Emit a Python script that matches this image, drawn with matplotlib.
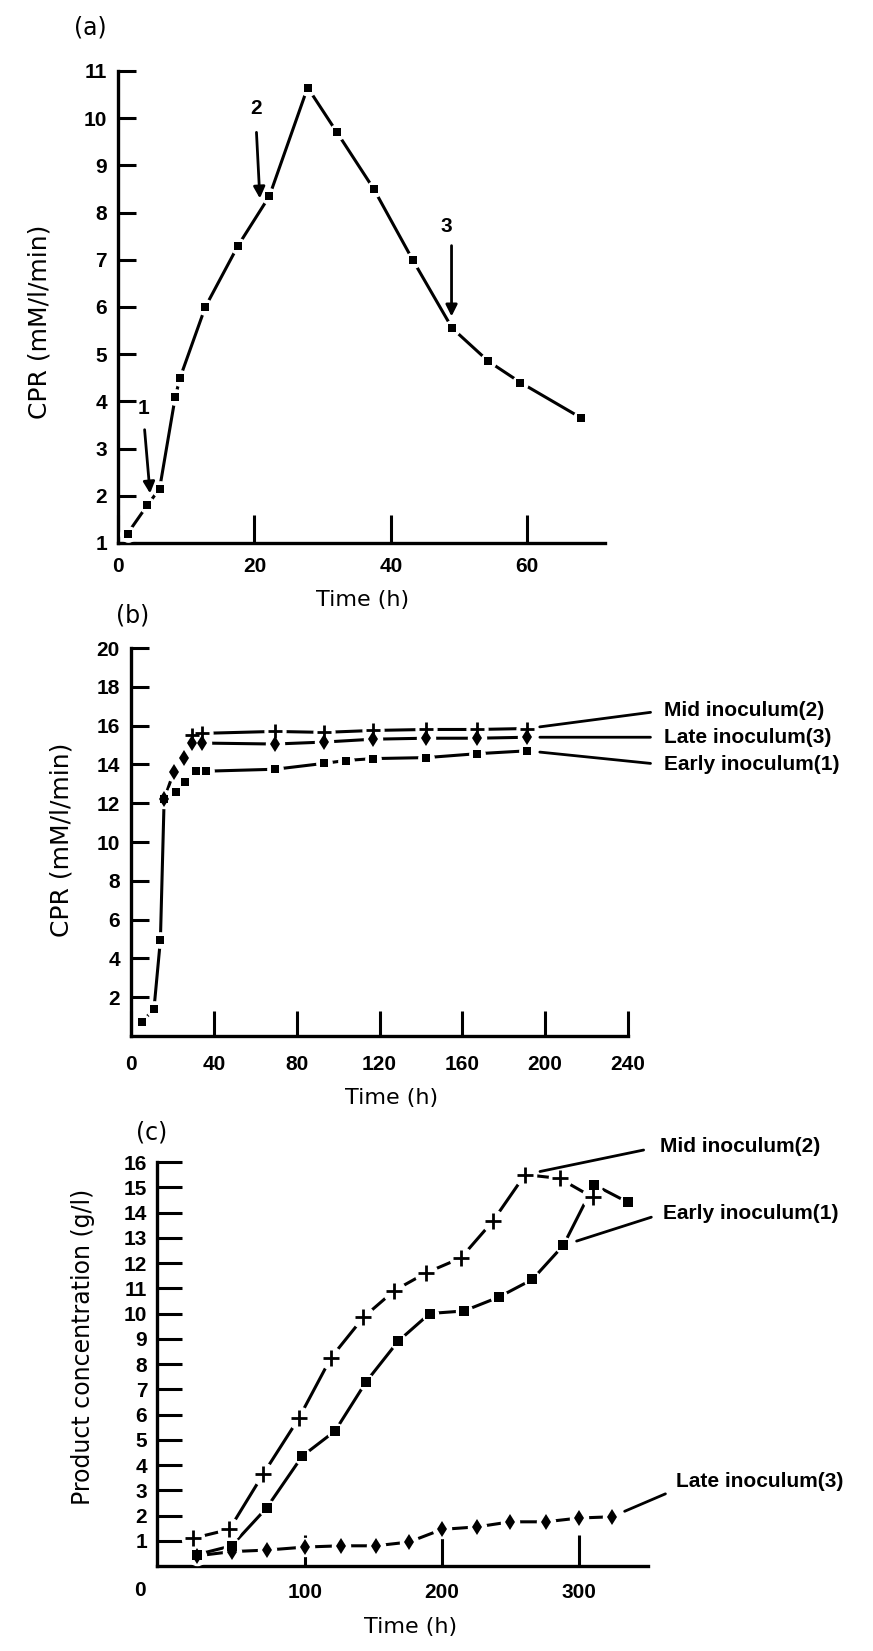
import matplotlib
matplotlib.use("Agg")
import matplotlib.pyplot as plt

# (a) CPR during the seed culture
a_time = [1.4, 4.3, 6.1, 8.4, 9.1, 12.8, 17.6, 22.2, 27.8, 32.1, 37.5, 43.2, 49.0, 54.3, 59.0, 67.9]
a_cpr = [1.2, 1.8, 2.15, 4.1, 4.5, 6.0, 7.3, 8.35, 10.65, 9.7, 8.5, 7.0, 5.55, 4.85, 4.4, 3.65]
# arrow label, label pos, arrow tail, arrow tip (data units)
a_arrows = [
    ("1", (3.7, 3.85), (3.9, 3.4), (4.7, 2.05)),
    ("2", (20.2, 10.2), (20.3, 9.7), (20.8, 8.3)),
    ("3", (48.1, 7.7), (48.9, 7.3), (48.9, 5.8)),
]

# (b) CPR in the production fermenter
b_early_t = [5.2, 11.1, 14.2, 16.0, 21.9, 26.0, 31.2, 36.1, 69.5, 93.0, 103.7, 117.0, 142.6, 166.9, 191.4]
b_early = [0.7, 1.4, 4.95, 12.2, 12.6, 13.1, 13.65, 13.65, 13.75, 14.05, 14.2, 14.3, 14.35, 14.55, 14.7]
b_mid_t = [29.5, 34.5, 69.5, 93.0, 117.0, 142.6, 166.9, 191.4]
b_mid = [15.5, 15.6, 15.7, 15.65, 15.75, 15.8, 15.8, 15.85]
b_late_t = [16.0, 20.6, 25.8, 29.5, 34.5, 69.5, 93.0, 117.0, 142.6, 166.9, 191.4]
b_late = [12.2, 13.6, 14.35, 15.1, 15.1, 15.05, 15.15, 15.3, 15.35, 15.35, 15.4]

# (c) product concentration
c_mid_t = [18.5, 44.8, 69.6, 95.5, 119, 142.7, 165, 188, 213.8, 237, 260.6, 285.8, 310]
c_mid = [1.1, 1.45, 3.65, 5.85, 8.25, 9.85, 10.9, 11.6, 12.2, 13.65, 15.5, 15.35, 14.6]
c_early_t = [21, 46.5, 72, 98, 122, 144.7, 168, 191, 216, 241.5, 266, 288.6, 311, 335.8]
c_early = [0.45, 0.8, 2.3, 4.35, 5.35, 7.3, 8.9, 10.0, 10.1, 10.65, 11.35, 12.7, 15.1, 14.4]
c_late_t = [21, 46.5, 72, 100, 126, 151.6, 176, 200, 225.6, 250, 275.6, 300, 324]
c_late = [0.4, 0.57, 0.63, 0.75, 0.8, 0.8, 0.95, 1.45, 1.55, 1.75, 1.75, 1.9, 1.95]

W, H = 873, 1651
fig = plt.figure(figsize=(W / 100, H / 100), dpi=100)
TICKFONT = ["Liberation Sans", "DejaVu Sans"]


def box(left, top, right, bottom):
    return [left / W, 1 - bottom / H, (right - left) / W, (bottom - top) / H]


def ftext(x, y, s, **kw):
    fig.text(x / W, 1 - y / H, s, ha="center", va="center", **kw)


def style_axes(ax):
    for s in ["top", "right"]:
        ax.spines[s].set_visible(False)
    for s in ["left", "bottom"]:
        ax.spines[s].set_linewidth(2.4)
    ax.tick_params(direction="in", length=13, width=2.2, pad=8, labelsize=15)
    for lab in ax.get_xticklabels() + ax.get_yticklabels():
        lab.set_fontweight("bold")
        lab.set_family(TICKFONT)


def series(ax, x, y, marker, ms, mew=0.0):
    ax.plot(x, y, "-", color="k", lw=2.2, zorder=2, clip_on=False)
    ax.plot(x, y, ls="none", marker="o", ms=ms + 5, color="white", mec="white", zorder=3, clip_on=False)
    ax.plot(x, y, ls="none", marker=marker, ms=ms, color="k", mec="k", mew=mew, zorder=4, clip_on=False)


def tag(ax, text, x, y, dx, dy, shrink_a, shrink_b, rel=(0, 0.5)):
    ax.annotate(text, xy=(x, y), xytext=(dx, dy), textcoords="offset pixels",
                ha="left", va="center", fontsize=15, fontweight="bold", family=TICKFONT,
                annotation_clip=False,
                arrowprops=dict(arrowstyle="-", lw=2, color="k", shrinkA=shrink_a,
                                shrinkB=shrink_b, relpos=rel))


# ---------- (a)
ax = fig.add_axes(box(118, 71, 605, 543))
series(ax, a_time, a_cpr, "s", 6)
for lab, lp, tail, tip in a_arrows:
    ax.annotate("", xy=tip, xytext=tail,
                arrowprops=dict(arrowstyle="-|>", lw=2, color="k", mutation_scale=17,
                                shrinkA=0, shrinkB=0))
    ax.text(lp[0], lp[1], lab, ha="center", va="center", fontsize=15,
            fontweight="bold", family=TICKFONT)
ax.set_xlim(0, 71.4)
ax.set_ylim(1, 11)
ax.set_xticks([0, 20, 40, 60])
ax.set_yticks(range(1, 12))
style_axes(ax)
ax.tick_params(axis="x", length=20, pad=10)
ftext(90, 27, "(a)", fontsize=17)
ftext(363, 600, "Time (h)", fontsize=16)
ftext(40, 322, "CPR (mM/l/min)", fontsize=18, rotation=90)

# ---------- (b)
ax = fig.add_axes(box(131, 648, 628, 1036))
series(ax, b_early_t, b_early, "s", 6)
series(ax, b_late_t, b_late, "d", 8)
series(ax, b_mid_t, b_mid, "+", 10, mew=2)
ax.set_xlim(0, 240)
ax.set_ylim(0, 20)
ax.set_xticks(range(0, 241, 40))
ax.set_yticks(range(2, 21, 2))
style_axes(ax)
ax.tick_params(axis="x", length=18, pad=14)
tag(ax, "Mid inoculum(2)", b_mid_t[-1], b_mid[-1], 137, 18, 8, 9)
tag(ax, "Late inoculum(3)", b_late_t[-1], b_late[-1], 137, 0, 8, 9)
tag(ax, "Early inoculum(1)", b_early_t[-1], b_early[-1], 137, -14, 8, 9)
ftext(133, 615, "(b)", fontsize=17)
ftext(392, 1098, "Time (h)", fontsize=16)
ftext(61, 840, "CPR (mM/l/min)", fontsize=18, rotation=90)

# ---------- (c)
ax = fig.add_axes(box(157, 1162, 647.5, 1566))
series(ax, c_late_t, c_late, "d", 8)
series(ax, c_early_t, c_early, "s", 6.5)
series(ax, c_mid_t, c_mid, "+", 11, mew=2)
ax.set_xlim(-8, 350)
ax.set_ylim(0, 16)
ax.set_xticks([100, 200, 300])
ax.set_yticks(range(1, 17))
style_axes(ax)
ax.tick_params(axis="x", length=22, pad=12)
ax.tick_params(axis="y", length=18, pad=7)
peak = c_mid.index(max(c_mid))
tag(ax, "Mid inoculum(2)", c_mid_t[peak], c_mid[peak], 135, 28, 10, 11)
tag(ax, "Early inoculum(1)", c_early_t[11], c_early[11], 100, 32, 7, 10)
tag(ax, "Late inoculum(3)", c_late_t[-1], c_late[-1], 64, 35, 6, 10, rel=(0, 0.1))
ftext(140, 1590, "0", fontsize=15, fontweight="bold", family=TICKFONT)
ftext(152, 1132, "(c)", fontsize=17)
ftext(411, 1627, "Time (h)", fontsize=16)
ftext(83, 1347, "Product concentration (g/l)", fontsize=17, rotation=90)

fig.savefig("out.png", dpi=100)
